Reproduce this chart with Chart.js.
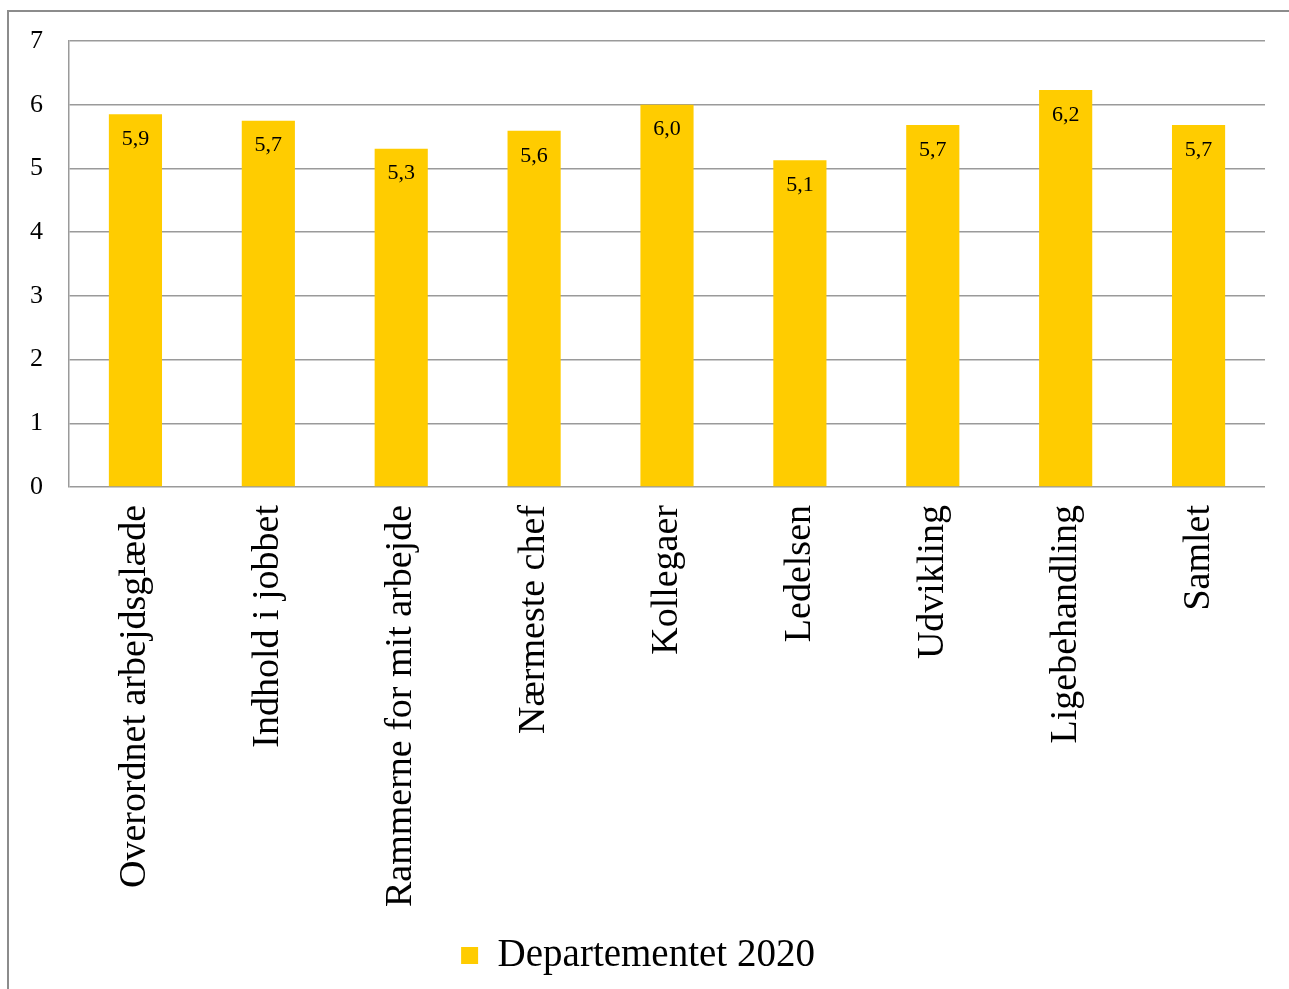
<!DOCTYPE html>
<html>
<head>
<meta charset="utf-8">
<script src="https://cdn.jsdelivr.net/npm/chart.js@4.4.0/dist/chart.umd.min.js"></script>
<style>
  html, body { margin: 0; padding: 0; background: #fff; }
  #frame {
    position: absolute; left: 7px; top: 10px; width: 1282px; height: 979px;
    border-left: 2px solid #8c8c8c; border-top: 2px solid #8c8c8c;
  }
  #wrap { position: absolute; left: 2px; top: 0; width: 1280px; height: 979px; }
</style>
</head>
<body>
<div id="frame"><div id="wrap"><canvas id="chart"></canvas></div></div>
<script>
const categories = [
  'Overordnet arbejdsglæde', 'Indhold i jobbet', 'Rammerne for mit arbejde',
  'Nærmeste chef', 'Kollegaer', 'Ledelsen', 'Udvikling', 'Ligebehandling', 'Samlet'
];
const values = [5.85, 5.75, 5.31, 5.59, 6.0, 5.13, 5.68, 6.23, 5.68];
const valueLabels = ['5,9', '5,7', '5,3', '5,6', '6,0', '5,1', '5,7', '6,2', '5,7'];
const yTicks = [0, 1, 2, 3, 4, 5, 6, 7];

const serif = "'Liberation Serif', 'DejaVu Serif', serif";

// draws the value text just inside the top of each bar
const barLabels = {
  id: 'barLabels',
  afterDatasetsDraw(chart) {
    const ctx = chart.ctx;
    const meta = chart.getDatasetMeta(0);
    ctx.save();
    ctx.font = '22px ' + serif;
    ctx.fillStyle = '#000';
    ctx.textAlign = 'center';
    ctx.textBaseline = 'middle';
    meta.data.forEach((bar, i) => {
      ctx.fillText(valueLabels[i], bar.x, bar.y + 25);
    });
    ctx.restore();
  }
};

new Chart(document.getElementById('chart'), {
  type: 'bar',
  data: {
    labels: categories,
    datasets: [{
      label: 'Departementet 2020',
      data: values,
      backgroundColor: '#FFCC00',
      borderWidth: 0,
      barPercentage: 0.4,
      categoryPercentage: 1.0
    }]
  },
  options: {
    responsive: true,
    maintainAspectRatio: false,
    animation: false,
    layout: { padding: { top: 29, right: 26, bottom: 6, left: 0 } },
    plugins: {
      tooltip: { enabled: false },
      legend: {
        position: 'bottom',
        labels: {
          font: { family: serif, size: 39 },
          color: '#000',
          boxWidth: 17,
          boxHeight: 17,
          padding: 8
        }
      }
    },
    scales: {
      x: {
        grid: { display: false, drawTicks: false },
        border: { display: false },
        ticks: {
          minRotation: 90,
          maxRotation: 90,
          autoSkip: false,
          padding: 18,
          color: '#000',
          font: { family: serif, size: 38 }
        },
        afterFit(scale) { scale.height = 441; }
      },
      y: {
        min: 0,
        max: 7,
        afterBuildTicks(scale) { scale.ticks = yTicks.map(v => ({ value: v })); },
        grid: { color: '#9a9a9a', lineWidth: 1.5, drawTicks: false },
        border: { display: true, color: '#9a9a9a', width: 1.5 },
        ticks: {
          padding: 26,
          color: '#000',
          font: { family: serif, size: 26 }
        },
        afterFit(scale) {
          scale.width = 58;
          scale.paddingTop = 0;
          scale.paddingBottom = 0;
        }
      }
    }
  },
  plugins: [barLabels]
});
</script>
</body>
</html>
